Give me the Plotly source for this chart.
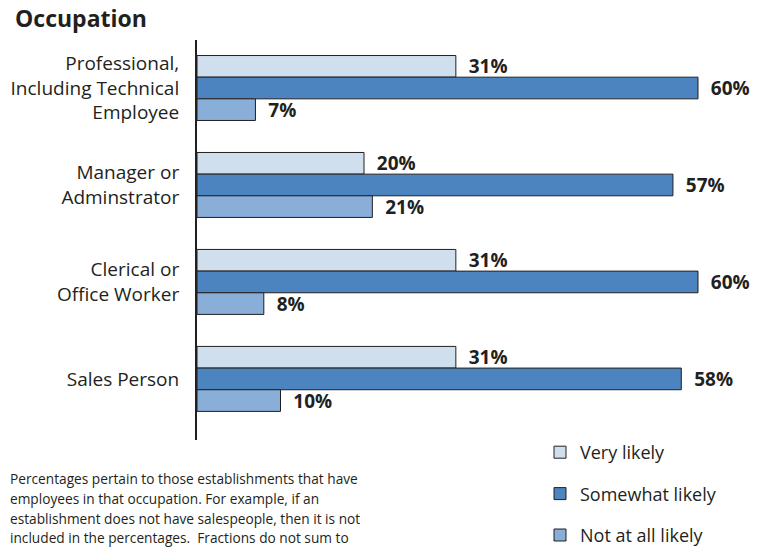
import plotly.graph_objects as go

categories = ["Professional,<br>Including Technical<br>Employee",
              "Manager or<br>Adminstrator",
              "Clerical or<br>Office Worker",
              "Sales Person"]
very_likely = [31, 20, 31, 31]
somewhat_likely = [60, 57, 60, 58]
not_at_all_likely = [7, 21, 8, 10]
series_names = ["Very likely", "Somewhat likely", "Not at all likely"]
series_colors = ["#cfdfee", "#4b84be", "#89aed7"]
footnote_lines = ["Percentages pertain to those establishments that have",
                  "employees in that occupation. For example, if an",
                  "establishment does not have salespeople, then it is not",
                  "included in the percentages.  Fractions do not sum to"]

FONT = "'Open Sans', sans-serif"
TXT = "#231f20"

# the page adds an 8px body margin at top/left; figure fills the rest of the window
OFF = 8
W, H = 765 - OFF, 548 - OFF
PL, PT = 197 - OFF, 40 - OFF
PW, PH = W - PL, 400


def px_x(x):
    return (x - OFF - PL) / PW


def px_y(y):
    return 1 - (y - OFF - PT) / PH


fig = go.Figure()
for name, vals, col in zip(series_names,
                           [very_likely, somewhat_likely, not_at_all_likely],
                           series_colors):
    fig.add_trace(go.Bar(
        y=categories, x=vals, orientation="h", name=name,
        legendgroup=name,
        marker=dict(color=col, line=dict(color="#231f20", width=1)),
        text=[f"\u00a0\u00a0{v}%" for v in vals],
        textposition="outside", constraintext="none", cliponaxis=False,
        textfont=dict(family=FONT, size=19, color=TXT, weight="bold"),
        hoverinfo="skip",
    ))

fig.update_layout(
    width=W, height=H,
    margin=dict(l=PL, r=W - PL - PW, t=PT, b=H - PT - PH, autoexpand=False),
    paper_bgcolor="white", plot_bgcolor="white",
    barmode="group", bargap=0.33, bargroupgap=0,
    font=dict(family=FONT, color=TXT),
    showlegend=True,
    legend=dict(x=px_x(540), y=px_y(434), xanchor="left", yanchor="top",
                traceorder="grouped", tracegroupgap=15,
                font=dict(family=FONT, size=18, color=TXT),
                bgcolor="rgba(0,0,0,0)"),
    xaxis=dict(range=[0, PW / 8.35], visible=False, showgrid=False,
               zeroline=False, automargin=False),
    yaxis=dict(range=[3.63, -0.495], showline=True, linecolor="#231f20",
               linewidth=2, showgrid=False, zeroline=False, ticks="",
               ticklabelstandoff=12, automargin=False,
               tickfont=dict(family=FONT, size=19, color=TXT)),
)

fig.add_annotation(text="<b>Occupation</b>", xref="paper", yref="paper",
                   x=px_x(13), y=px_y(18), xanchor="left", yanchor="middle",
                   showarrow=False, font=dict(family=FONT, size=23, color=TXT))

for i, line in enumerate(footnote_lines):
    fig.add_annotation(text=line, xref="paper", yref="paper",
                       x=px_x(8), y=px_y(479 + 19.5 * i),
                       xanchor="left", yanchor="middle",
                       align="left", showarrow=False,
                       font=dict(family=FONT, size=13.7, color=TXT))

fig.write_html("out.html")
